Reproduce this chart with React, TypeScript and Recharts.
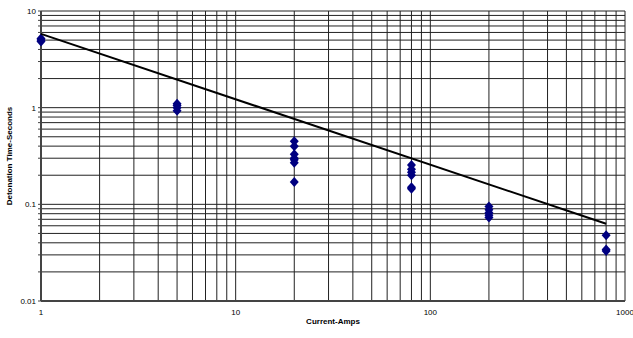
import { CartesianGrid, Label, Scatter, ScatterChart, XAxis, YAxis } from 'recharts';

const currents = [1, 5, 20, 80, 200, 800];
const times = [
  [5.2, 5.0, 4.85],
  [1.1, 1.05, 1.0, 0.93],
  [0.45, 0.4, 0.33, 0.3, 0.29, 0.27, 0.17],
  [0.255, 0.23, 0.215, 0.2, 0.15, 0.145],
  [0.095, 0.088, 0.082, 0.077, 0.073],
  [0.048, 0.034, 0.033],
];

// power-law trend line end points
const trendX = [1, 800];
const trendY = [5.8, 0.063];

const xDecades = [1, 10, 100];
const yDecades = [0.01, 0.1, 1];
const steps = [1, 2, 3, 4, 5, 6, 7, 8, 9];

const points = currents.flatMap((c, i) => times[i].map((t) => ({ x: c, y: t })));
const trend = trendX.map((x, i) => ({ x, y: trendY[i] }));

const xTicks = [...xDecades.flatMap((d) => steps.map((s) => +(d * s).toPrecision(3))), 1000];
const yTicks = [...yDecades.flatMap((d) => steps.map((s) => +(d * s).toPrecision(3))), 10];

const isDecade = (v: number) => Math.abs(Math.log10(v) - Math.round(Math.log10(v))) < 1e-9;
const fmt = (v: number) => (isDecade(v) ? String(v) : '');

const Diamond = (props: any) => {
  const { cx, cy } = props;
  if (cx == null || cy == null) return null;
  return <polygon points={`${cx},${cy - 5} ${cx + 4.5},${cy} ${cx},${cy + 5} ${cx - 4.5},${cy}`} fill="#000080" />;
};

const font = 'Liberation Sans, Arial, sans-serif';
const tickStyle = { fontSize: 8, fontFamily: font, fill: '#000' };

export default function App() {
  return (
    <div style={{ position: 'absolute', left: 0, top: 0, background: '#fff' }}>
      <ScatterChart width={633} height={338} margin={{ top: 11, right: 8, bottom: 7, left: 0 }}>
        <CartesianGrid stroke="#222" strokeWidth={1} />
        <XAxis
          type="number"
          dataKey="x"
          scale="log"
          domain={[1, 1000]}
          ticks={xTicks}
          interval={0}
          tickFormatter={fmt}
          tick={tickStyle}
          tickLine={false}
          axisLine={{ stroke: '#444', strokeWidth: 2 }}
          height={30}
        >
          <Label
            value="Current-Amps"
            position="insideBottom"
            offset={7}
            style={{ fontSize: 8, fontWeight: 'bold', fontFamily: font, fill: '#000' }}
          />
        </XAxis>
        <YAxis
          type="number"
          dataKey="y"
          scale="log"
          domain={[0.01, 10]}
          ticks={yTicks}
          interval={0}
          tickFormatter={fmt}
          tick={tickStyle}
          tickSize={3}
          tickLine={{ stroke: '#444' }}
          axisLine={{ stroke: '#444', strokeWidth: 2 }}
          width={41}
        >
          <Label
            value="Detonation Time-Seconds"
            angle={-90}
            position="insideLeft"
            offset={9}
            style={{ textAnchor: 'middle', fontSize: 8, fontWeight: 'bold', fontFamily: font, fill: '#000' }}
          />
        </YAxis>
        <Scatter data={points} shape={<Diamond />} isAnimationActive={false} />
        <Scatter
          data={trend}
          line={{ stroke: '#000', strokeWidth: 2 }}
          shape={() => null}
          isAnimationActive={false}
        />
      </ScatterChart>
    </div>
  );
}
